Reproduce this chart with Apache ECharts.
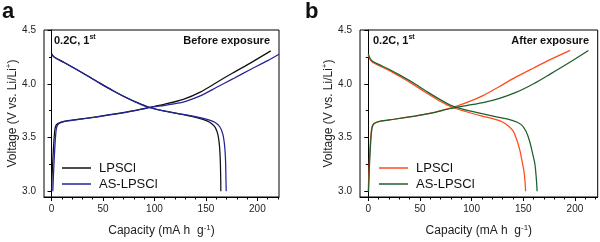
<!DOCTYPE html>
<html><head><meta charset="utf-8">
<script src="https://cdn.jsdelivr.net/npm/echarts@6/dist/echarts.min.js"></script>
<style>html,body{margin:0;padding:0;background:#fff}#c{width:600px;height:242px}</style>
</head><body><div id="c"></div>
<script>
// ---- data: [capacity (mA h g-1), voltage (V)] ----
const aLPSClCharge = [[0,3.0],[0.8,3.2],[2,3.42],[3.2,3.57],[4.5,3.615],[7,3.635],[12,3.65],[25,3.668],[45,3.695],[65,3.725],[80,3.75],[95,3.78],[110,3.81],[128,3.855],[145,3.925],[160,4.01],[176,4.10],[192.7,4.19],[213,4.306]];
const aASCharge = [[1.3,3.0],[2.1,3.2],[3.3,3.42],[4.5,3.57],[5.8,3.615],[8.3,3.635],[13,3.65],[25,3.666],[45,3.693],[65,3.723],[80,3.748],[95,3.778],[110,3.80],[128,3.83],[145,3.89],[160,3.965],[176,4.045],[192.7,4.13],[210,4.215],[221,4.275]];
const aLPSClDischarge = [[0,4.28],[2,4.255],[5,4.235],[12,4.2],[25,4.13],[35,4.075],[47,4.006],[60,3.935],[72,3.875],[84,3.822],[94,3.784],[110,3.745],[128,3.713],[142,3.683],[151,3.655],[156,3.625],[159.5,3.585],[161.8,3.52],[163.2,3.42],[164,3.28],[164.4,3.1],[164.5,3.0]];
const aASDischarge = [[0,4.275],[2,4.25],[5,4.232],[12,4.198],[25,4.128],[35,4.073],[47,4.004],[60,3.933],[72,3.873],[84,3.82],[94,3.782],[110,3.745],[128,3.715],[142,3.69],[152,3.666],[159,3.64],[163.5,3.60],[166.5,3.53],[168.2,3.42],[169.1,3.28],[169.5,3.1],[169.7,3.0]];

const bLPSClCharge = [[0,3.0],[0.8,3.22],[2,3.45],[3.2,3.58],[4.5,3.62],[7,3.638],[12,3.652],[25,3.67],[45,3.70],[62,3.73],[80,3.775],[95,3.825],[111,3.89],[127,3.975],[143.5,4.066],[160,4.147],[176,4.224],[195.4,4.31]];
const bASCharge = [[0.3,3.0],[1.1,3.22],[2.3,3.45],[3.5,3.58],[4.8,3.62],[7.3,3.638],[12,3.652],[25,3.67],[45,3.70],[62,3.73],[80,3.77],[95,3.797],[111,3.825],[127,3.865],[143.5,3.922],[160,4.0],[176,4.09],[195,4.2],[213,4.31]];
const bLPSClDischarge = [[0,4.27],[1.5,4.23],[4,4.2],[10,4.17],[20,4.125],[30.6,4.068],[45,3.985],[58,3.905],[70,3.835],[80.6,3.784],[95,3.74],[110,3.70],[127,3.657],[134,3.62],[140,3.565],[144,3.47],[146.7,3.38],[148.8,3.28],[150.6,3.19],[151.7,3.09],[152.2,3.0]];
const bASDischarge = [[0,4.28],[1.5,4.24],[4,4.21],[10,4.18],[20,4.135],[30.6,4.08],[45,4.0],[58,3.92],[70,3.85],[80.6,3.797],[95,3.755],[110,3.722],[125,3.69],[140,3.657],[148,3.62],[152.5,3.56],[156,3.47],[158.8,3.36],[161.2,3.256],[162.6,3.12],[163.4,3.0]];

const xMajorTicks = [0,50,100,150,200];
const xMinorTicks = [10,20,30,40,60,70,80,90,110,120,130,140,160,170,180,190,210,220];
const yMajorTicks = [3.0,3.5,4.0,4.5];
const yMinorTicks = [3.25,3.75,4.25];
const legendNames = ['LPSCl','AS-LPSCl'];

const FONT = 'Liberation Sans, Arial, sans-serif';
const C = {black:'#111111', blue:'#23239c', orange:'#ff4a1a', green:'#1c5f2c'};

function xAxes(grid, min, max){
  return [
    {type:'value', gridIndex:grid, position:'bottom', min:min, max:max,
     axisLine:{lineStyle:{color:'#000',width:1}}, splitLine:{show:false},
     axisTick:{customValues:xMajorTicks, length:4, lineStyle:{color:'#000'}},
     axisLabel:{customValues:xMajorTicks, margin:7, fontSize:10, color:'#222', fontFamily:FONT, formatter:v=>String(v)},
     name:'{n|Capacity (mA h  g}{s|-1}{n|)}', nameLocation:'middle', nameGap:27,
     nameTextStyle:{rich:{n:{fontSize:12,fontFamily:FONT,color:'#222',lineHeight:14},s:{fontSize:8,fontFamily:FONT,color:'#222',verticalAlign:'top',lineHeight:14}}}},
    {type:'value', gridIndex:grid, position:'bottom', min:min, max:max,
     axisLine:{show:false}, splitLine:{show:false}, axisLabel:{show:false},
     axisTick:{customValues:xMinorTicks, length:2.5, lineStyle:{color:'#000'}}}
  ];
}
function yAxes(grid){
  return [
    {type:'value', gridIndex:grid, position:'left', min:2.947, max:4.5,
     axisLine:{show:true,lineStyle:{color:'#000',width:1}}, splitLine:{show:false},
     axisTick:{show:true, customValues:yMajorTicks, length:4, lineStyle:{color:'#000'}},
     axisLabel:{customValues:yMajorTicks, margin:8, fontSize:10, color:'#222', fontFamily:FONT, formatter:v=>v.toFixed(1)},
     name:'{n|Voltage (V vs. Li/Li}{s|+}{n|)}', nameLocation:'middle', nameGap:24, nameRotate:90,
     nameTextStyle:{rich:{n:{fontSize:12,fontFamily:FONT,color:'#222',lineHeight:14},s:{fontSize:8,fontFamily:FONT,color:'#222',verticalAlign:'top',lineHeight:14}}}},
    {type:'value', gridIndex:grid, position:'left', min:2.947, max:4.5,
     axisLine:{show:false}, splitLine:{show:false}, axisLabel:{show:false},
     axisTick:{show:true, customValues:yMinorTicks, length:2.5, lineStyle:{color:'#000'}}}
  ];
}
function line(name, data, color, xi, yi){
  return {type:'line', name:name, data:data, xAxisIndex:xi, yAxisIndex:yi, showSymbol:false, symbol:'none',
          smooth:0.25, lineStyle:{color:color, width:1.25}, itemStyle:{color:color}, animation:false, silent:true};
}
function legend(left, names){
  return {data:names, left:left, top:156, orient:'vertical', icon:'rect', itemWidth:29, itemHeight:1.5, itemGap:2,
          selectedMode:false, formatter:n=>n.trim(),
          textStyle:{fontSize:13, fontFamily:FONT, color:'#111', lineHeight:14, padding:[0,0,0,3]}};
}
const boldText = (x, y, text, align, size) => ({type:'text', x:x, y:y,
  style:{text:text, fill:'#111', font:'bold '+size+'px '+FONT, textAlign:align, textVerticalAlign:'middle'}});
function rich1st(x, y){
  return {type:'text', x:x, y:y, style:{text:'{a|0.2C, 1}{s|st}', textAlign:'left', textVerticalAlign:'middle',
    rich:{a:{fontSize:11, fontWeight:'bold', fontFamily:FONT, fill:'#111', color:'#111', lineHeight:14},
          s:{fontSize:7, fontWeight:'bold', fontFamily:FONT, fill:'#111', color:'#111', verticalAlign:'top', lineHeight:14}}}};
}

const chart = echarts.init(document.getElementById('c'), null, {renderer:'canvas'});
chart.setOption({
  animation:false,
  grid:[
    {left:44, top:30, width:235, height:168, show:true, borderColor:'#000', borderWidth:1, backgroundColor:'transparent'},
    {left:360, top:30, width:237.7, height:168, show:true, borderColor:'#000', borderWidth:1, backgroundColor:'transparent'}
  ],
  xAxis:[...xAxes(0,-7.3,221), ...xAxes(1,-8,222)],
  yAxis:[...yAxes(0), ...yAxes(1)],
  legend:[legend(57, legendNames), legend(374, legendNames.map(n=>n+' '))],
  series:[
    line('LPSCl', aLPSClCharge, C.black, 0, 0),
    line('LPSCl', aLPSClDischarge, C.black, 0, 0),
    line('AS-LPSCl', aASCharge, C.blue, 0, 0),
    line('AS-LPSCl', aASDischarge, C.blue, 0, 0),
    line('LPSCl ', bLPSClCharge, C.orange, 2, 2),
    line('LPSCl ', bLPSClDischarge, C.orange, 2, 2),
    line('AS-LPSCl ', bASCharge, C.green, 2, 2),
    line('AS-LPSCl ', bASDischarge, C.green, 2, 2)
  ],
  graphic:[
    boldText(2, 12, 'a', 'left', 22),
    boldText(305, 12, 'b', 'left', 22),
    rich1st(54, 41),
    rich1st(373, 41),
    boldText(270, 40.5, 'Before exposure', 'right', 11),
    boldText(589, 40.5, 'After exposure', 'right', 11)
  ]
});
</script></body></html>
